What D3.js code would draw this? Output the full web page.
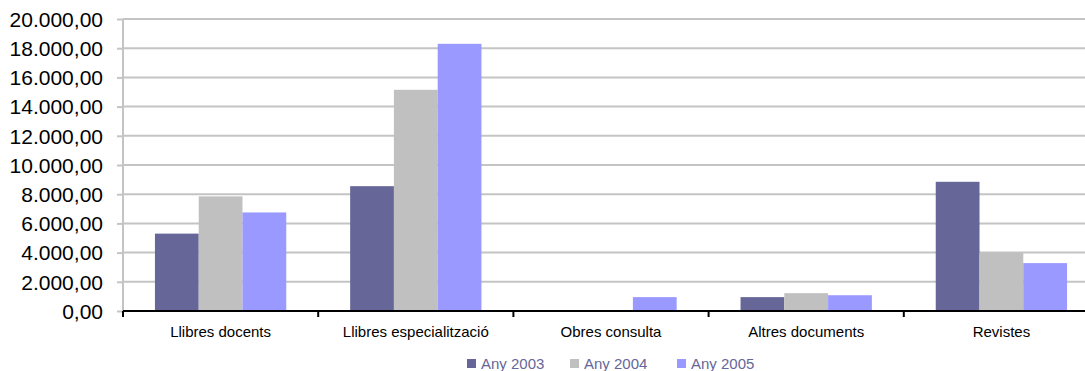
<!DOCTYPE html>
<html><head><meta charset="utf-8">
<script src="https://cdn.jsdelivr.net/npm/d3@7"></script>
<style>body{margin:0;background:#fff;}svg{display:block;font-family:"Liberation Sans",Arial,sans-serif;}</style>
</head><body>
<svg id="c" width="1085" height="371"></svg>
<script>
const categories = ["Llibres docents","Llibres especialització","Obres consulta","Altres documents","Revistes"];
const seriesNames = ["Any 2003","Any 2004","Any 2005"];
const values2003 = [5300, 8550, 0, 950, 8850];
const values2004 = [7850, 15150, 0, 1220, 4000];
const values2005 = [6750, 18300, 950, 1080, 3280];
const yTicks = [0,2000,4000,6000,8000,10000,12000,14000,16000,18000,20000];
const colors = ["#666699","#C0C0C0","#9999FF"];

(function(){
const series = [values2003, values2004, values2005];
const svg = d3.select("#c");
const pL = 123, pR = 1099, pT = 19, pB = 311;
const x = d3.scaleBand().domain(categories).range([pL, pR]).paddingInner(0).paddingOuter(0);
const xs = d3.scaleBand().domain(seriesNames).range([0, x.bandwidth()]).paddingInner(0).paddingOuter(0.73);
const y = d3.scaleLinear().domain([0,20000]).range([pB, pT]);
const loc = d3.formatLocale({decimal:",",thousands:".",grouping:[3],currency:["",""]});
const fmt = loc.format(",.2f");

// gridlines
svg.append("g").selectAll("line").data(yTicks.filter(d=>d>0)).join("line")
  .attr("x1", pL).attr("x2", 1085).attr("y1", d=>y(d)).attr("y2", d=>y(d))
  .attr("stroke", "#c4c4c4").attr("stroke-width", 2);

// y axis
const ya = svg.append("g").attr("transform", `translate(${pL},0)`)
  .call(d3.axisLeft(y).tickValues(yTicks).tickFormat(fmt).tickSize(6).tickPadding(14));
ya.select(".domain").attr("stroke", "#c4c4c4").attr("stroke-width", 2).attr("d", `M0,${pT}V${pB}`);
ya.selectAll(".tick line").attr("stroke", "#c4c4c4").attr("stroke-width", 2);
ya.selectAll(".tick text").attr("font-size", 21).attr("fill", "#000").attr("font-family", "'Liberation Sans',Arial,sans-serif").attr("dy","0.35em");

// bars
series.forEach((vals, si) => {
  svg.append("g").selectAll("rect").data(vals.map((v,i)=>({c:categories[i], v}))).join("rect")
    .attr("x", d => x(d.c) + xs(seriesNames[si]))
    .attr("width", xs.bandwidth())
    .attr("y", d => y(d.v))
    .attr("height", d => y(0) - y(d.v))
    .attr("fill", colors[si]);
});

// x axis
const xa = svg.append("g").attr("transform", `translate(0,${pB})`)
  .call(d3.axisBottom(x).tickSize(0).tickPadding(15));
xa.select(".domain").attr("stroke", "#000").attr("stroke-width", 2).attr("d", `M${pL},0H1085`);
xa.selectAll(".tick text").attr("font-size", 15).attr("fill", "#000").attr("font-family", "'Liberation Sans',Arial,sans-serif");
svg.append("g").selectAll("line").data(categories).join("line")
  .attr("x1", d => x(d)).attr("x2", d => x(d)).attr("y1", pB).attr("y2", pB + 6)
  .attr("stroke", "#000").attr("stroke-width", 2);

// legend
const legX = [467, 570, 677];
const lg = svg.append("g");
seriesNames.forEach((n, i) => {
  lg.append("rect").attr("x", legX[i]).attr("y", 359).attr("width", 9).attr("height", 9).attr("fill", colors[i]);
  lg.append("text").attr("x", legX[i] + 14).attr("y", 369).attr("font-size", 15).attr("fill", "#666699").text(n);
});
})();
</script>
</body></html>
